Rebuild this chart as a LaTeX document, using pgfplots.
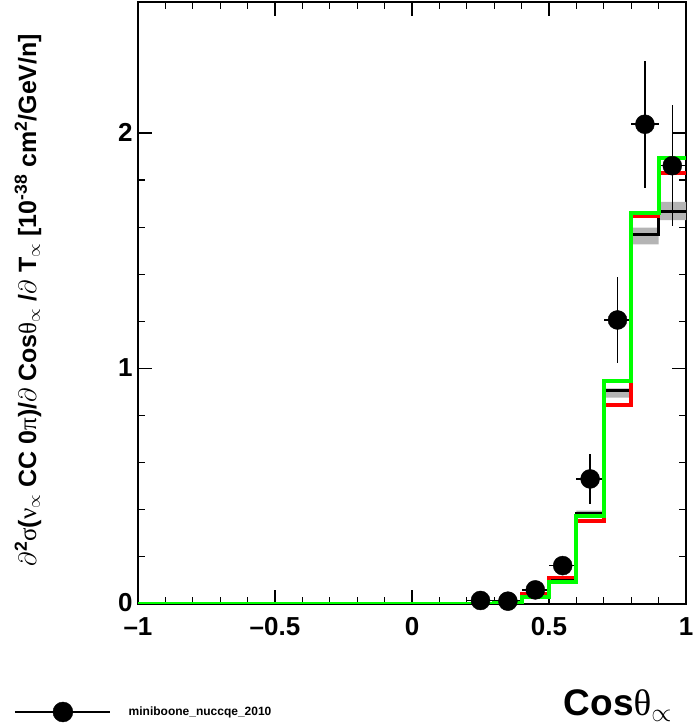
\RequirePackage{fix-cm}
\documentclass[border=0pt]{standalone}
\usepackage{fontspec}
\setmainfont{Liberation Sans}
\newfontfamily\grk{Liberation Serif}
\usepackage{pgfplots}
\pgfplotsset{compat=1.18}
\usepgfplotslibrary{fillbetween}
\definecolor{rootgreen}{RGB}{0,255,0}
\definecolor{rootred}{RGB}{255,0,0}
\definecolor{band}{RGB}{180,180,180}
\newcommand{\g}[1]{{\mdseries\grk #1}}
\begin{document}
\begin{tikzpicture}
\begin{axis}[
  at={(138pt,124pt)}, anchor=south west, scale only axis,
  width=548pt, height=602pt,
  xmin=-1, xmax=1, ymin=0, ymax=2.556,
  xtick={-1,-0.5,0,0.5,1}, xticklabels={--1,--0.5,0,0.5,1},
  minor x tick num=4,
  ytick={0,1,2}, yticklabels={0,1,2}, minor y tick num=4,
  tick align=inside, xtick pos=both, ytick pos=both,
  major tick length=14pt, minor tick length=7pt,
  tick style={black, line width=1.2pt},
  axis line style={line width=1.6pt},
  tick label style={font=\bfseries\fontsize{26}{26}\selectfont},
  xticklabel style={yshift=-10pt},
  yticklabel style={xshift=-2pt, yshift=1pt},
  xlabel={\bfseries Cos\g{θ}\raisebox{-6pt}{$\scriptstyle\propto$}},
  xlabel style={at={(axis description cs:0.98,-0.168)}, anchor=east, font=\fontsize{37}{37}\selectfont},
  ylabel={\bfseries $\partial$\textsuperscript{2}\g{σ}(\g{ν}$_{\propto}$ CC 0\g{π})/$\partial$ Cos\g{θ}$_{\propto}$ /$\partial$ T$_{\propto}$ [10\textsuperscript{-38} cm\textsuperscript{2}/GeV/n]},
  ylabel style={at={(axis description cs:-0.2007,0.505)}, anchor=center, font=\bfseries\fontsize{25}{25}\selectfont},
  legend style={at={(axis description cs:-0.2263,-0.1794)}, anchor=west, draw=none, fill=none,
    font=\bfseries\fontsize{12}{14}\selectfont, inner sep=0pt},
  legend image code/.code={\draw[black, line width=1.5pt] (0pt,0pt) -- (95pt,0pt); \fill[black] (48pt,0pt) circle (10pt);},
]
% black histogram uncertainty band
\addplot[name path=hi, const plot, draw=none, forget plot] coordinates {
(0.3,0.005) (0.4,0.040) (0.5,0.110) (0.6,0.396) (0.7,0.916) (0.8,1.598) (0.9,1.707) (1.0,1.707)};
\addplot[name path=lo, const plot, draw=none, forget plot] coordinates {
(0.3,0.005) (0.4,0.030) (0.5,0.100) (0.6,0.372) (0.7,0.876) (0.8,1.527) (0.9,1.630) (1.0,1.630)};
\addplot[band, forget plot] fill between[of=hi and lo];
% data
\addplot[only marks, mark=*, mark size=9.5pt, black,
  error bars/.cd, x dir=both, x explicit, y dir=both, y explicit,
  error mark=none, error bar style={line width=1.5pt, black}]
  table[x=x, y=y, x error=ex, y error=ey] {
x y ex ey
0.25 0.015 0.05 0.010
0.35 0.012 0.05 0.010
0.45 0.060 0.05 0.015
0.55 0.163 0.05 0.030
0.65 0.531 0.05 0.105
0.75 1.206 0.05 0.184
0.85 2.037 0.05 0.270
0.95 1.861 0.05 0.256
};
\addlegendentry{\hspace*{16pt}miniboone\_nuccqe\_2010}
% black histogram
\addplot[const plot, black, line width=3pt] coordinates {
(-1,0) (-0.9,0) (-0.8,0) (-0.7,0) (-0.6,0) (-0.5,0) (-0.4,0) (-0.3,0) (-0.2,0) (-0.1,0)
(0,0) (0.1,0) (0.2,0) (0.3,0.005) (0.4,0.035) (0.5,0.105) (0.6,0.385) (0.7,0.906) (0.8,1.567) (0.9,1.665) (1.0,1.665)};
% red histogram
\addplot[const plot, rootred, line width=3.5pt] coordinates {
(-1,0) (-0.9,0) (-0.8,0) (-0.7,0) (-0.6,0) (-0.5,0) (-0.4,0) (-0.3,0) (-0.2,0) (-0.1,0)
(0,0) (0.1,0) (0.2,0) (0.3,0.005) (0.4,0.042) (0.5,0.112) (0.6,0.352) (0.7,0.845) (0.8,1.645) (0.9,1.830) (1.0,1.830)};
% green histogram
\addplot[const plot, rootgreen, line width=4pt] coordinates {
(-1,0) (-0.9,0) (-0.8,0) (-0.7,0) (-0.6,0) (-0.5,0) (-0.4,0) (-0.3,0) (-0.2,0) (-0.1,0)
(0,0) (0.1,0) (0.2,0) (0.3,0.003) (0.4,0.031) (0.5,0.092) (0.6,0.375) (0.7,0.946) (0.8,1.660) (0.9,1.895) (1.0,1.895)};
\end{axis}
\pgfresetboundingbox
\useasboundingbox (0,0) rectangle (696pt,728pt);
\end{tikzpicture}
\end{document}
